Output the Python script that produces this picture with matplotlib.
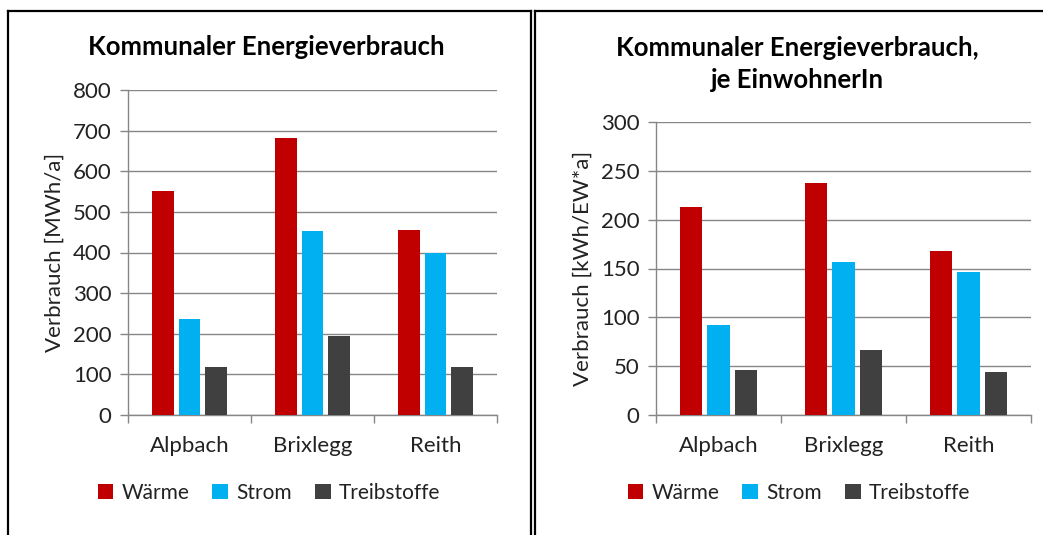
import matplotlib
matplotlib.use("Agg")
import matplotlib.pyplot as plt
from matplotlib.patches import Patch
from matplotlib.lines import Line2D
import numpy as np

plt.rcParams['font.family'] = ['Lato', 'DejaVu Sans']

categories = ["Alpbach", "Brixlegg", "Reith"]
series = ["Wärme", "Strom", "Treibstoffe"]
colors = ["#C00000", "#00B0F0", "#404040"]

total_waerme = [551, 683, 455]
total_strom = [237, 452, 399]
total_treib = [119, 194, 119]

per_waerme = [213, 237.5, 168]
per_strom = [92, 157, 146.5]
per_treib = [46, 67, 44]

W, H = 1043, 535
fig = plt.figure(figsize=(W / 100, H / 100), dpi=100)

def fx(px):
    return px / W

def fy(py):
    return 1 - py / H

# panel borders
for xs, ys in [([8, 8], [11, 540]), ([8, 531], [11, 11]), ([531, 531], [11, 540]),
               ([535, 535], [11, 540]), ([535, 1043], [11, 11])]:
    fig.add_artist(Line2D([fx(v) for v in xs], [fy(v) for v in ys], color="black",
                          lw=1.6, transform=fig.transFigure))

grid_c = "#868686"
text_c = "#222222"
fs = 16

def draw(ax, data, ymax, ystep, ylabel):
    x = np.arange(len(categories))
    off = 0.219
    w = 0.178
    for i, (vals, c) in enumerate(zip(data, colors)):
        ax.bar(x + (i - 1) * off, vals, width=w, color=c, zorder=3)
    ax.set_xlim(-0.5, len(categories) - 0.5)
    ax.set_ylim(0, ymax)
    ax.set_yticks(np.arange(0, ymax + 1, ystep))
    ax.yaxis.grid(True, color=grid_c, lw=1, zorder=0)
    ax.set_axisbelow(True)
    for s in ["top", "right"]:
        ax.spines[s].set_visible(False)
    for s in ["left", "bottom"]:
        ax.spines[s].set_color(grid_c)
        ax.spines[s].set_linewidth(1)
    ax.set_xticks(x)
    ax.set_xticklabels(categories)
    ax.set_xticks(np.arange(-0.5, len(categories)), minor=True)
    ax.tick_params(axis="x", which="major", length=0, pad=15, labelsize=fs, labelcolor=text_c)
    ax.tick_params(axis="x", which="minor", length=6, color=grid_c, width=1)
    ax.tick_params(axis="y", length=6, color=grid_c, width=1, pad=6, labelsize=fs, labelcolor=text_c)
    ax.set_ylabel(ylabel, fontsize=fs, color=text_c, labelpad=6)

ax1 = fig.add_axes([fx(128), fy(415), fx(497) - fx(128), (415 - 90) / H])
draw(ax1, [total_waerme, total_strom, total_treib], 800, 100, "Verbrauch [MWh/a]")

ax2 = fig.add_axes([fx(656), fy(415), fx(1031) - fx(656), (415 - 122) / H])
draw(ax2, [per_waerme, per_strom, per_treib], 300, 50, "Verbrauch [kWh/EW*a]")

fig.text(fx(266), fy(47), "Kommunaler Energieverbrauch", ha="center", va="center",
         fontsize=18.5, fontweight="bold", color="black")
fig.text(fx(797), fy(64), "Kommunaler Energieverbrauch,\nje EinwohnerIn", ha="center", va="center",
         fontsize=18.5, fontweight="bold", color="black", linespacing=1.4)

handles = [Patch(facecolor=c, edgecolor="none") for c in colors]
for cx in (269, 799):
    fig.legend(handles, series, loc="center", bbox_to_anchor=(fx(cx), fy(493)), ncol=3,
               frameon=False, fontsize=15, handlelength=0.75, handleheight=0.75,
               handletextpad=0.4, columnspacing=1.1, labelcolor=text_c)

fig.savefig("out.png", dpi=100)
